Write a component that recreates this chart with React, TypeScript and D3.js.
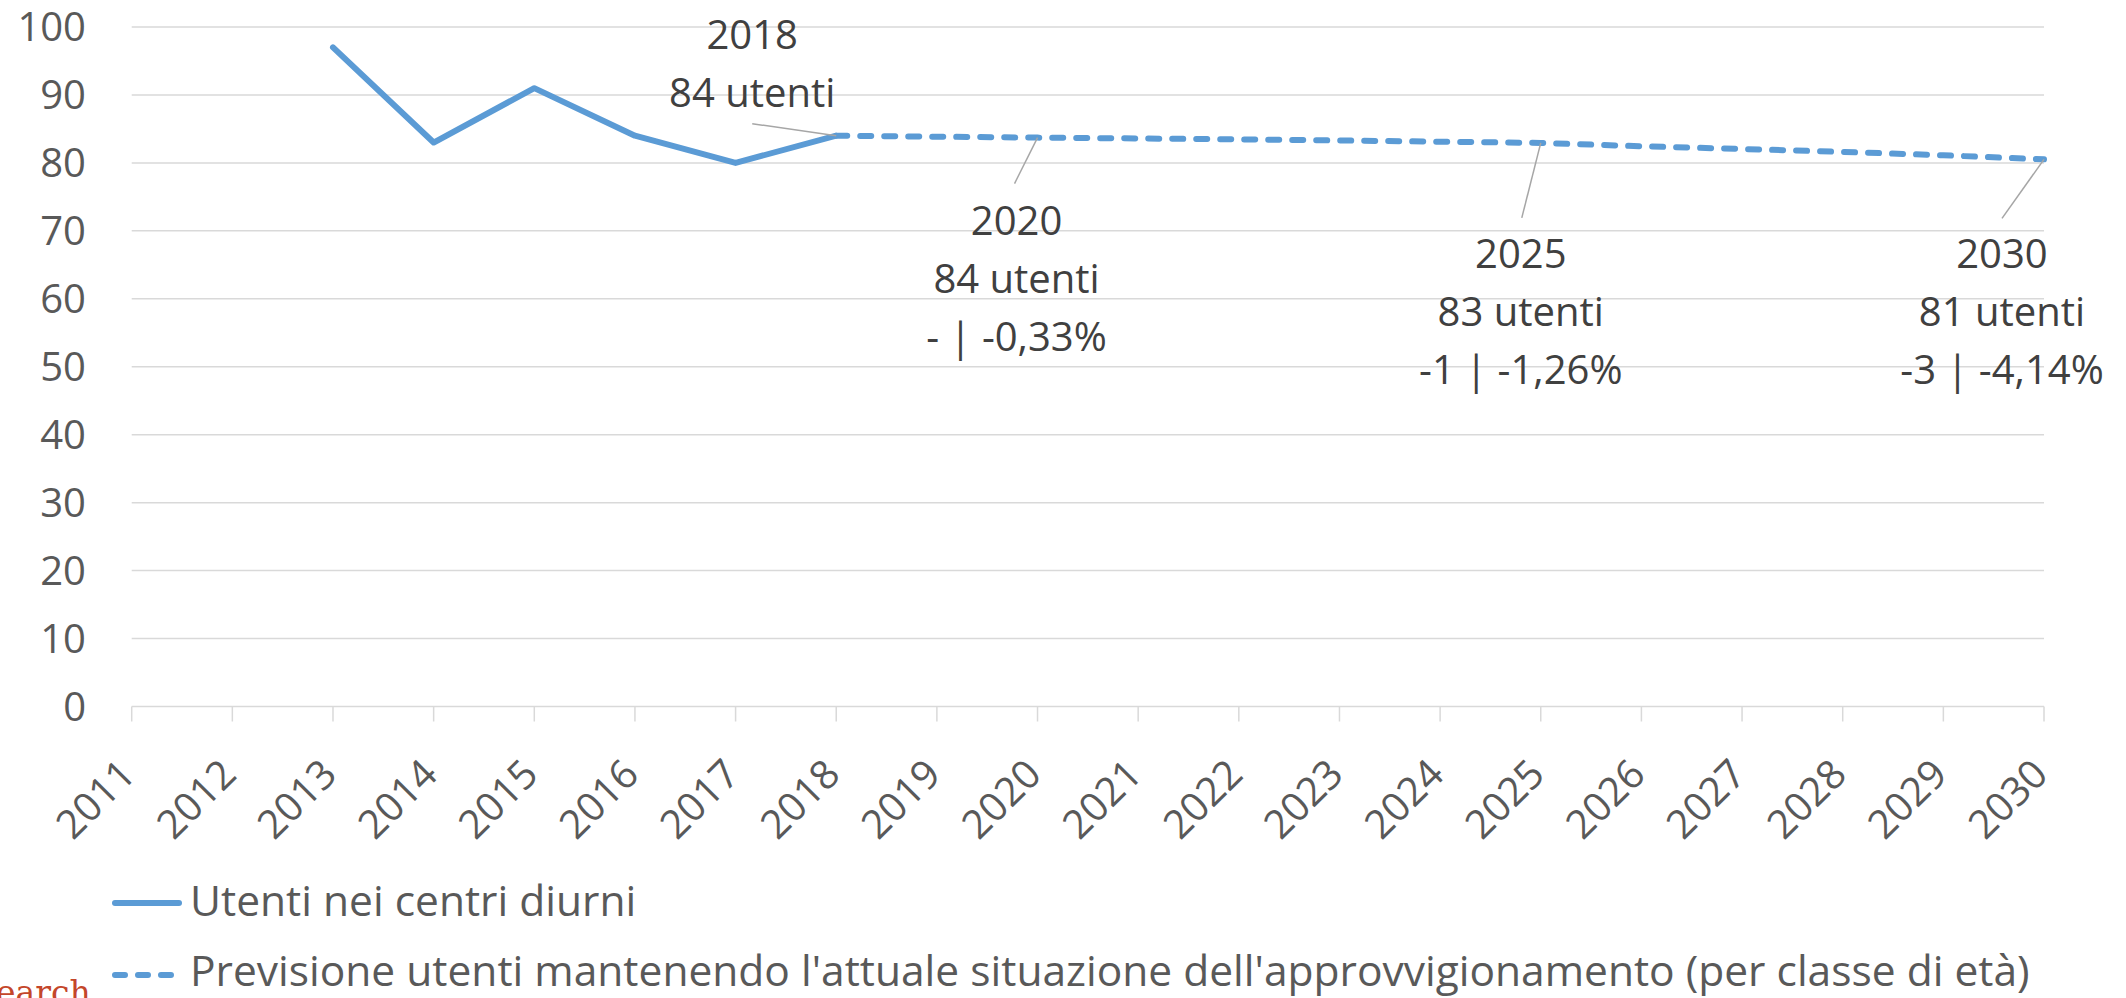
import * as d3 from 'd3';
import React from 'react';

// categories and values
const years = ['2011', '2012', '2013', '2014', '2015', '2016', '2017', '2018', '2019', '2020',
  '2021', '2022', '2023', '2024', '2025', '2026', '2027', '2028', '2029', '2030'];

const observedYears = ['2013', '2014', '2015', '2016', '2017', '2018'];
const observedValues = [97, 83, 91, 84, 80, 84];

const forecastYears = ['2018', '2019', '2020', '2021', '2022', '2023', '2024', '2025', '2026', '2027', '2028', '2029', '2030'];
const forecastValues = [84, 83.86, 83.72, 83.6, 83.46, 83.3, 83.12, 82.94, 82.45, 82.05, 81.62, 81.12, 80.52];

const yTicks = [0, 10, 20, 30, 40, 50, 60, 70, 80, 90, 100];

const seriesNames = [
  'Utenti nei centri diurni',
  "Previsione utenti mantenendo l'attuale situazione dell'approvvigionamento (per classe di età)",
];

const labelYears = ['2018', '2020', '2025', '2030'];
const labelTexts = [
  ['2018', '84 utenti'],
  ['2020', '84 utenti', '- | -0,33%'],
  ['2025', '83 utenti', '-1 | -1,26%'],
  ['2030', '81 utenti', '-3 | -4,14%'],
];

// label placement relative to its point (layout, not data)
const labelLayout = [
  { dx: -84, dy: -87, lx: -84, ly: -12 },
  { dx: -21, dy: 97, lx: -23, ly: 46 },
  { dx: -20, dy: 125, lx: -19, ly: 75 },
  { dx: -42, dy: 109, lx: -42, ly: 59 },
];

const params = {
  width: 2126,
  height: 998,
  left: 131.7,
  right: 2044,
  top: 27,
  bottom: 706.5,
  font: '"Open Sans", Lato, sans-serif',
  fontSize: 40,
  legendSize: 42.5,
  lineGap: 58,
};

const BLUE = '#5B9BD5';
const GRID = '#d9d9d9';

export default function App() {
  const x = d3.scalePoint<string>().domain(years).range([params.left, params.right]).padding(0);
  const y = d3.scaleLinear().domain([0, 100]).range([params.bottom, params.top]);

  const observedPath = d3.line<number>()
    .x((_, i) => x(observedYears[i]) as number)
    .y((d) => y(d))(observedValues);

  const forecastPath = d3.line<number>()
    .x((_, i) => x(forecastYears[i]) as number)
    .y((d) => y(d))(forecastValues);

  const valueAt = (yr: string) => {
    const i = forecastYears.indexOf(yr);
    return i >= 0 ? forecastValues[i] : observedValues[observedYears.indexOf(yr)];
  };

  return (
    <div style={{ position: 'fixed', left: 0, top: 0, background: '#fff' }}>
      <svg width={params.width} height={params.height} style={{ display: 'block', fontVariantLigatures: 'none' }}
        fontFamily={params.font}>
        {/* gridlines + y labels */}
        <g>
          {yTicks.map((t) => (
            <g key={t}>
              {t > 0 && (
                <line x1={params.left} x2={params.right} y1={y(t)} y2={y(t)}
                  stroke={GRID} strokeWidth={1.5} />
              )}
              <text x={86} y={y(t)} dy="0.36em" textAnchor="end" fontSize={params.fontSize}
                fill="#595959">{t}</text>
            </g>
          ))}
        </g>

        {/* x axis */}
        <g>
          <line x1={params.left} x2={params.right} y1={y(0)} y2={y(0)} stroke={GRID} strokeWidth={1.5} />
          {years.map((yr) => (
            <g key={yr}>
              <line x1={x(yr)} x2={x(yr)} y1={y(0)} y2={y(0) + 15} stroke={GRID} strokeWidth={1.5} />
              <text transform={`translate(${(x(yr) as number) + 6},${y(0) + 70}) rotate(-45)`}
                textAnchor="end" fontSize={params.fontSize} fill="#595959">{yr}</text>
            </g>
          ))}
        </g>

        {/* series */}
        <path d={observedPath || ''} fill="none" stroke={BLUE} strokeWidth={6}
          strokeLinejoin="round" strokeLinecap="round" />
        <path d={forecastPath || ''} fill="none" stroke={BLUE} strokeWidth={6}
          strokeLinecap="round" strokeDasharray="11 13" />

        {/* data labels */}
        {labelYears.map((yr, i) => {
          const px = x(yr) as number;
          const py = y(valueAt(yr));
          const l = labelLayout[i];
          return (
            <g key={yr}>
              <line x1={px + l.lx} y1={py + l.ly} x2={px} y2={py} stroke="#a6a6a6" strokeWidth={1.5} />
              {labelTexts[i].map((s, j) => (
                <text key={j} x={px + l.dx} y={py + l.dy + j * params.lineGap} textAnchor="middle"
                  fontSize={params.fontSize} fill="#404040">{s}</text>
              ))}
            </g>
          );
        })}

        {/* legend */}
        <g>
          <line x1={115} x2={179} y1={903} y2={903} stroke={BLUE} strokeWidth={6} strokeLinecap="round" />
          <text x={190} y={916} fontSize={params.legendSize} fill="#595959">{seriesNames[0]}</text>
          <line x1={115} x2={172} y1={975} y2={975} stroke={BLUE} strokeWidth={6} strokeLinecap="round"
            strokeDasharray="10 13" />
          <text x={190} y={986} fontSize={params.legendSize} fill="#595959">{seriesNames[1]}</text>
        </g>

        <text x={-4} y={1004} fontFamily='"DejaVu Serif", serif' fontSize={33} fill="#C4462A">earch</text>
      </svg>
    </div>
  );
}
